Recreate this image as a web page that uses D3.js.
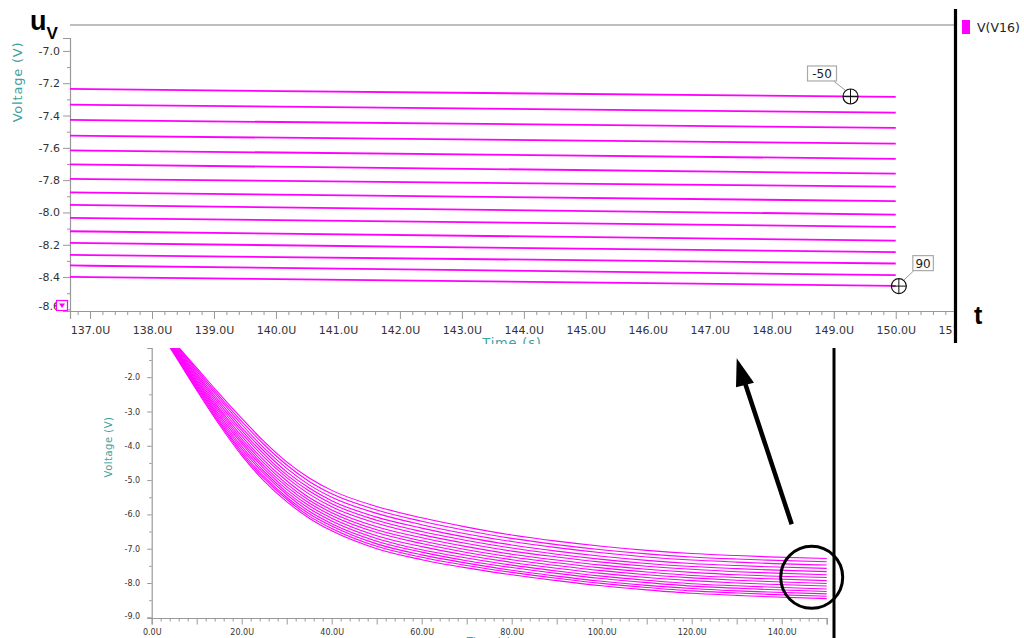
<!DOCTYPE html>
<html><head><meta charset="utf-8">
<script src="https://cdn.jsdelivr.net/npm/d3@7"></script>
<style>body{margin:0;background:#fff}svg{display:block}</style>
</head><body>
<svg id="c" width="1024" height="638"></svg>
<script>
// ---------- data ----------
const times = [0,5,10,15,20,25,30,35,40,50,60,70,80,90,100,110,120,130,137,150]; // µs
const sweep = [-50,-40,-30,-20,-10,0,10,20,30,40,50,60,70,80,90];
const voltages = [
 [-0.20,-0.98,-1.73,-2.48,-3.20,-3.88,-4.47,-4.94,-5.30,-5.77,-6.10,-6.37,-6.60,-6.78,-6.93,-7.05,-7.14,-7.20,-7.237,-7.285],
 [-0.21,-1.00,-1.78,-2.55,-3.29,-3.97,-4.56,-5.04,-5.40,-5.87,-6.20,-6.47,-6.70,-6.88,-7.03,-7.15,-7.24,-7.30,-7.334,-7.382],
 [-0.22,-1.03,-1.83,-2.62,-3.38,-4.07,-4.66,-5.14,-5.50,-5.97,-6.30,-6.57,-6.79,-6.97,-7.12,-7.24,-7.33,-7.39,-7.429,-7.476],
 [-0.23,-1.06,-1.89,-2.70,-3.47,-4.16,-4.76,-5.23,-5.60,-6.08,-6.40,-6.67,-6.89,-7.07,-7.22,-7.34,-7.43,-7.49,-7.526,-7.574],
 [-0.23,-1.09,-1.94,-2.77,-3.55,-4.25,-4.85,-5.32,-5.69,-6.17,-6.50,-6.76,-6.98,-7.16,-7.31,-7.43,-7.52,-7.58,-7.617,-7.668],
 [-0.24,-1.12,-1.99,-2.84,-3.63,-4.34,-4.93,-5.41,-5.78,-6.26,-6.59,-6.85,-7.07,-7.24,-7.39,-7.51,-7.60,-7.67,-7.704,-7.759],
 [-0.25,-1.15,-2.04,-2.91,-3.72,-4.43,-5.02,-5.51,-5.87,-6.36,-6.68,-6.94,-7.16,-7.33,-7.48,-7.60,-7.69,-7.76,-7.794,-7.840],
 [-0.26,-1.17,-2.09,-2.97,-3.80,-4.51,-5.11,-5.59,-5.95,-6.45,-6.77,-7.03,-7.24,-7.41,-7.56,-7.68,-7.78,-7.84,-7.877,-7.930],
 [-0.26,-1.19,-2.13,-3.03,-3.87,-4.59,-5.19,-5.67,-6.03,-6.53,-6.85,-7.11,-7.32,-7.49,-7.64,-7.76,-7.85,-7.92,-7.955,-8.013],
 [-0.27,-1.22,-2.18,-3.10,-3.94,-4.67,-5.27,-5.75,-6.11,-6.62,-6.94,-7.19,-7.40,-7.57,-7.72,-7.84,-7.93,-8.00,-8.035,-8.089],
 [-0.28,-1.24,-2.22,-3.16,-4.02,-4.75,-5.35,-5.83,-6.19,-6.70,-7.03,-7.27,-7.48,-7.65,-7.80,-7.92,-8.02,-8.08,-8.118,-8.174],
 [-0.28,-1.27,-2.26,-3.22,-4.09,-4.82,-5.42,-5.91,-6.27,-6.78,-7.10,-7.35,-7.55,-7.72,-7.87,-7.99,-8.09,-8.15,-8.190,-8.246],
 [-0.29,-1.29,-2.30,-3.28,-4.16,-4.90,-5.50,-5.98,-6.34,-6.86,-7.18,-7.42,-7.63,-7.80,-7.95,-8.07,-8.16,-8.23,-8.264,-8.316],
 [-0.29,-1.31,-2.34,-3.33,-4.22,-4.96,-5.56,-6.05,-6.41,-6.93,-7.25,-7.49,-7.69,-7.86,-8.01,-8.13,-8.23,-8.29,-8.330,-8.388],
 [-0.30,-1.33,-2.38,-3.38,-4.28,-5.03,-5.63,-6.11,-6.48,-7.00,-7.32,-7.56,-7.76,-7.93,-8.08,-8.20,-8.30,-8.36,-8.400,-8.454]
];
const zoomXTicks = [137,138,139,140,141,142,143,144,145,146,147,148,149,150,151];
const zoomYTicks = [-7.0,-7.2,-7.4,-7.6,-7.8,-8.0,-8.2,-8.4,-8.6];
const fullXTicks = [0,20,40,60,80,100,120,140];
const fullYTicks = [-2,-3,-4,-5,-6,-7,-8,-9];
const markerLabels = ["-50","90"];
const markerT = [149.27,150.05];
const markerV = [-7.282,-8.456];
const legendLabel = "V(V16)";

// ---------- setup ----------
const svg = d3.select("#c");
const MAG = "#ff00ff", TEAL = "#3fa0a0", AX = "#999", TXT = "#333";
const FONT = "DejaVu Sans, Verdana, sans-serif";
const fmt = v => v.toFixed(1);
const defs = svg.append("defs");

function styleAxis(g, fs) {
  g.select(".domain").attr("stroke", AX).attr("stroke-width", 1.2);
  g.selectAll(".tick line").attr("stroke", AX);
  g.selectAll(".tick text").attr("fill", TXT).attr("font-family", FONT).attr("font-size", fs);
}

// ================= TOP (zoomed) chart =================
const xT = d3.scaleLinear().domain([136.677,150.956]).range([70,955]);
const yT = d3.scaleLinear().domain([-8.61,-6.92]).range([311,38]);

defs.append("clipPath").attr("id","clipTop").append("rect")
  .attr("x",70).attr("y",25).attr("width",885).attr("height",286);
defs.append("clipPath").attr("id","clipTopAxis").append("rect")
  .attr("x",0).attr("y",0).attr("width",954).attr("height",344);

const topG = svg.append("g").attr("clip-path","url(#clipTopAxis)");

topG.append("line").attr("x1",xT.range()[0]).attr("x2",xT.range()[1])
  .attr("y1",25).attr("y2",25).attr("stroke","#aaa").attr("stroke-width",1.5);

const yAxT = topG.append("g").attr("transform","translate(70,0)")
  .call(d3.axisLeft(yT).tickValues(zoomYTicks).tickSize(7).tickPadding(3).tickFormat(fmt));
styleAxis(yAxT, 11);
yAxT.selectAll(".tick text").filter(d => d === -8.6).attr("dy","0.05em");
topG.append("g").attr("transform","translate(70,0)")
  .call(d3.axisLeft(yT).tickValues(d3.range(-7.1,-8.55,-0.2)).tickSize(3).tickFormat(""))
  .call(g => { g.select(".domain").remove(); g.selectAll("line").attr("stroke",AX); });

const xAxT = topG.append("g").attr("transform","translate(0,311)")
  .call(d3.axisBottom(xT).tickValues(zoomXTicks).tickSize(8).tickPadding(7).tickFormat(d => fmt(d)+"U"));
styleAxis(xAxT, 11);
topG.append("g").attr("transform","translate(0,311)")
  .call(d3.axisBottom(xT).tickValues(d3.range(136.8,151,0.2).filter(v => Math.abs(v-Math.round(v))>0.01)).tickSize(4).tickFormat(""))
  .call(g => { g.select(".domain").remove(); g.selectAll("line").attr("stroke",AX); });

topG.append("text").attr("transform","translate(22,82) rotate(-90)")
  .attr("text-anchor","middle").attr("font-family",FONT).attr("font-size",13)
  .attr("letter-spacing",0.8).attr("fill",TEAL).text("Voltage (V)");
topG.append("text").attr("x",512).attr("y",347).attr("text-anchor","middle")
  .attr("font-family",FONT).attr("font-size",13).attr("letter-spacing",0.8)
  .attr("fill",TEAL).text("Time (s)");

const lineT = d3.line().x(d => xT(d[0])).y(d => yT(d[1])).curve(d3.curveMonotoneX);
topG.append("g").attr("clip-path","url(#clipTop)")
  .selectAll("path").data(voltages).join("path")
  .attr("d", vs => lineT(times.map((t,i) => [t, vs[i]])))
  .attr("fill","none").attr("stroke",MAG).attr("stroke-width",1.8);

topG.append("rect").attr("x",56.5).attr("y",300.5).attr("width",11).attr("height",10)
  .attr("fill","#fff").attr("stroke",MAG).attr("stroke-width",1.2);
topG.append("path").attr("d","M59,303.5 L65,303.5 L62,308 Z").attr("fill",MAG);

markerLabels.forEach((lab, k) => {
  const cx = xT(markerT[k]), cy = yT(markerV[k]);
  const g = topG.append("g");
  const left = k === 0;
  const bx = left ? cx - 43 : cx + 14, by = cy - 30.5;
  const bw = left ? 29 : 20.5, bh = 15;
  g.append("line")
    .attr("x1", left ? bx + bw - 3 : bx + 1).attr("y1", by + bh)
    .attr("x2", left ? cx - 5 : cx + 5).attr("y2", cy - 6)
    .attr("stroke","#999").attr("stroke-width",1);
  g.append("rect").attr("x",bx).attr("y",by).attr("width",bw).attr("height",bh)
    .attr("fill","#fff").attr("stroke","#aaa").attr("stroke-width",1.2);
  g.append("text").attr("x",bx+bw/2).attr("y",by+12).attr("text-anchor","middle")
    .attr("font-family",FONT).attr("font-size",12).attr("fill","#222").text(lab);
  g.append("circle").attr("cx",cx).attr("cy",cy).attr("r",7.5)
    .attr("fill","none").attr("stroke","#111").attr("stroke-width",1.2);
  g.append("line").attr("x1",cx-7.5).attr("x2",cx+7.5).attr("y1",cy).attr("y2",cy)
    .attr("stroke","#111").attr("stroke-width",1);
  g.append("line").attr("x1",cx).attr("x2",cx).attr("y1",cy-7.5).attr("y2",cy+7.5)
    .attr("stroke","#111").attr("stroke-width",1);
});

svg.append("rect").attr("x",962).attr("y",20).attr("width",8).attr("height",14).attr("fill",MAG);
svg.append("text").attr("x",977).attr("y",32).attr("font-family",FONT).attr("font-size",12.5)
  .attr("fill","#222").text(legendLabel);

const uv = svg.append("text").attr("x",30).attr("y",30)
  .attr("font-family","Liberation Sans, Arial, sans-serif").attr("font-weight","bold").attr("fill","#000");
uv.append("tspan").attr("font-size",27).text("u");
uv.append("tspan").attr("font-size",17).attr("dy",9).text("V");
svg.append("text").attr("x",974).attr("y",324).attr("font-family","Liberation Sans, Arial, sans-serif")
  .attr("font-weight","bold").attr("font-size",25).attr("fill","#000").text("t");

svg.append("line").attr("x1",955.5).attr("x2",955.5).attr("y1",9).attr("y2",343)
  .attr("stroke","#000").attr("stroke-width",3.2);

// ================= BOTTOM (full) chart =================
svg.append("rect").attr("x",95).attr("y",344).attr("width",735).attr("height",294).attr("fill","#fff");

const xB = d3.scaleLinear().domain([0,150]).range([151.7,826.7]);
const yB = d3.scaleLinear().domain([-9.02,-1.15]).range([618,348]);

defs.append("clipPath").attr("id","clipBot").append("rect")
  .attr("x",152).attr("y",348).attr("width",680).attr("height",270);

const bot = svg.append("g");

const yAxB = bot.append("g").attr("transform","translate(151.7,0)")
  .call(d3.axisLeft(yB).tickValues(fullYTicks).tickSize(4.5).tickPadding(7).tickFormat(fmt));
styleAxis(yAxB, 8);
yAxB.selectAll(".tick text").filter(d => d === -9).attr("dy","0.1em");
bot.append("g").attr("transform","translate(151.7,0)")
  .call(d3.axisLeft(yB).tickValues(d3.range(-1.5,-9,-1)).tickSize(2.5).tickFormat(""))
  .call(g => { g.select(".domain").remove(); g.selectAll("line").attr("stroke",AX); });

const xAxB = bot.append("g").attr("transform","translate(0,618)")
  .call(d3.axisBottom(xB).tickValues(fullXTicks).tickSize(6.5).tickPadding(5).tickFormat(d => fmt(d)+"U"));
styleAxis(xAxB, 8);
bot.append("g").attr("transform","translate(0,618)")
  .call(d3.axisBottom(xB).tickValues(d3.range(10,151,20)).tickSize(6.5).tickFormat(""))
  .call(g => { g.select(".domain").remove(); g.selectAll("line").attr("stroke",AX); });
bot.append("g").attr("transform","translate(0,618)")
  .call(d3.axisBottom(xB).tickValues(d3.range(2,150,2).filter(v => v % 10 !== 0)).tickSize(3.5).tickFormat(""))
  .call(g => { g.select(".domain").remove(); g.selectAll("line").attr("stroke",AX); });

bot.append("text").attr("transform","translate(112,447) rotate(-90)")
  .attr("text-anchor","middle").attr("font-family",FONT).attr("font-size",10)
  .attr("letter-spacing",0.5).attr("fill",TEAL).text("Voltage (V)");
bot.append("text").attr("x",489).attr("y",645).attr("text-anchor","middle")
  .attr("font-family",FONT).attr("font-size",10).attr("letter-spacing",0.5)
  .attr("fill",TEAL).text("Time (s)");

const lineB = d3.line().x(d => xB(d[0])).y(d => yB(d[1])).curve(d3.curveMonotoneX);
bot.append("g").attr("clip-path","url(#clipBot)")
  .selectAll("path").data(voltages).join("path")
  .attr("d", vs => lineB(times.map((t,i) => [t, vs[i]])))
  .attr("fill","none").attr("stroke",MAG).attr("stroke-width",1.1);

svg.append("line").attr("x1",834).attr("x2",834).attr("y1",348).attr("y2",638)
  .attr("stroke","#000").attr("stroke-width",3);
svg.append("circle").attr("cx",811.7).attr("cy",577.3).attr("r",31)
  .attr("fill","none").attr("stroke","#000").attr("stroke-width",3);
svg.append("line").attr("x1",791.7).attr("y1",524.3).attr("x2",745).attr("y2",383)
  .attr("stroke","#000").attr("stroke-width",4.5);
svg.append("path").attr("d","M736.7,358.3 L736,387.3 L754,382.7 Z").attr("fill","#000");
</script>
</body></html>
